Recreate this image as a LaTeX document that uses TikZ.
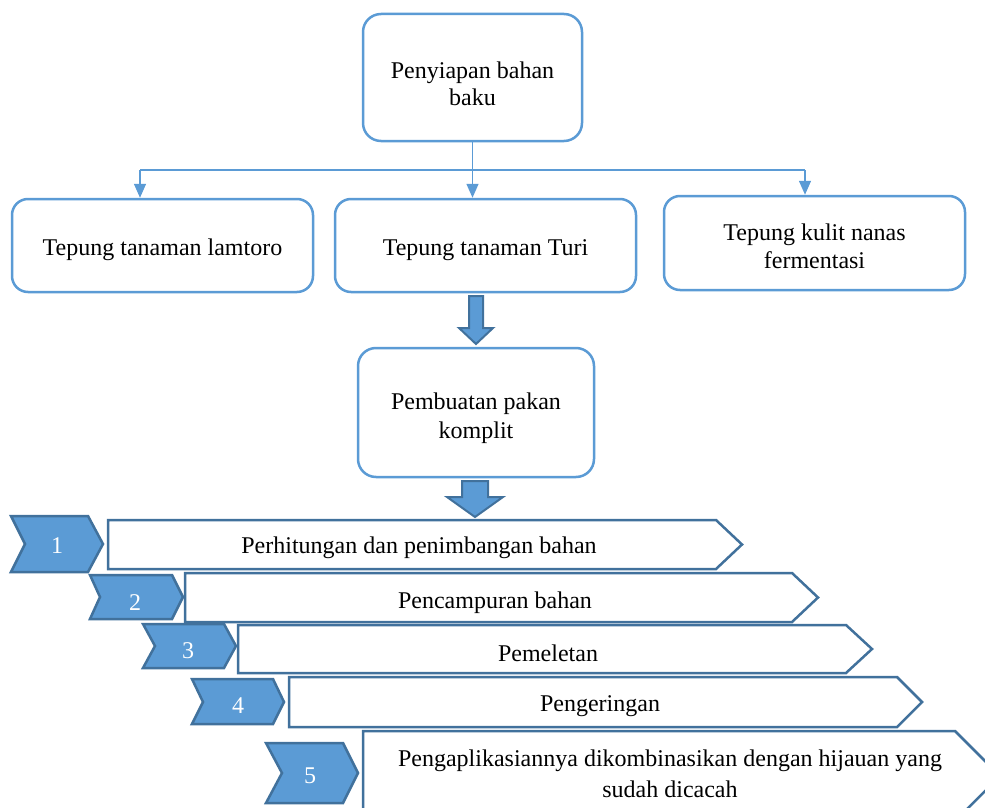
\documentclass[tikz,border=0pt]{standalone}
\usepackage{fontspec}
\setmainfont{Liberation Serif}
\usetikzlibrary{arrows.meta}
\definecolor{lb}{HTML}{5B9BD5}
\definecolor{db}{HTML}{41719C}
\newcommand{\dn}[1]{\rule{0pt}{#1}}
\begin{document}
\begin{tikzpicture}[x=1pt,y=-1pt,
  font=\fontsize{24}{28}\selectfont,
  rbox/.style={draw=lb, line width=2.5pt, rounded corners=18pt, fill=white, align=center, inner sep=0pt},
  conn/.style={draw=lb, line width=1.5pt, -{Triangle[length=14pt,width=12pt]}},
  plainline/.style={draw=lb, line width=1.5pt},
  barshape/.style={draw=db, line width=2.5pt, fill=white, line join=miter},
  chev/.style={draw=db, line width=2.5pt, fill=lb, line join=miter},
  blk/.style={draw=db, line width=2pt, fill=lb, line join=miter},
  num/.style={text=white, inner sep=0pt},
  bartext/.style={inner sep=0pt, align=center}
]
\useasboundingbox (0,0) rectangle (985,808);
\clip (0,0) rectangle (985,808);

% top part
\node[rbox, minimum width=219pt, minimum height=127pt, font=\fontsize{24}{27}\selectfont] (top) at (472.5,77.5) {\dn{28.5pt}Penyiapan bahan\\baku};
\node[rbox, rounded corners=16pt, minimum width=301pt, minimum height=93pt] (b1) at (162.5,245.5) {\dn{24.5pt}Tepung tanaman lamtoro};
\node[rbox, rounded corners=16pt, minimum width=301pt, minimum height=93pt] (b2) at (485.5,245.5) {\dn{24.5pt}Tepung tanaman Turi};
\node[rbox, rounded corners=16pt, minimum width=301pt, minimum height=94pt] (b3) at (814.5,243) {\dn{23.5pt}Tepung kulit nanas\\fermentasi};
\node[rbox, minimum width=236pt, minimum height=129pt, font=\fontsize{24}{29}\selectfont] (b4) at (476,412.5) {\dn{27.5pt}Pembuatan pakan\\komplit};

% connectors
\coordinate (jc) at (top.south |- 0,170);
\coordinate (jl) at (140,170);
\coordinate (jr) at (805,170);
\draw[plainline] (top.south) -- (jc);
\draw[plainline] (jl) -- (jr);
\draw[conn] (jl) -- (jl |- b1.north);
\draw[conn] (jc) -- (jc |- b2.north);
\draw[conn] (jr) -- (jr |- b3.north);

% block arrows
\draw[blk] (469,296) -- (483,296) -- (483,328) -- (493,328) -- (476,344) -- (459,328) -- (469,328) -- cycle;
\draw[blk] (462,481) -- (488,481) -- (488,497) -- (503,497) -- (475,517) -- (447,497) -- (462,497) -- cycle;

% step bars
\draw[barshape] (108,520) -- (716,520) -- (742,544.5) -- (716,569) -- (108,569) -- cycle;
\draw[barshape] (185,573) -- (792,573) -- (818,597.5) -- (792,622) -- (185,622) -- cycle;
\draw[barshape] (238,625) -- (846,625) -- (872,649) -- (846,673) -- (238,673) -- cycle;
\draw[barshape] (289,677) -- (897,677) -- (922,702) -- (897,727) -- (289,727) -- cycle;
\draw[barshape] (363,731) -- (955,731) -- (1000,776) -- (955,821) -- (363,821) -- cycle;

% chevrons
\draw[chev] (11,516) -- (88,516) -- (103,544) -- (88,572) -- (11,572) -- (25,544) -- cycle;
\draw[chev] (90,575) -- (172,575) -- (183,597) -- (172,619) -- (90,619) -- (100,597) -- cycle;
\draw[chev] (143,624) -- (224,624) -- (236,646) -- (224,668) -- (143,668) -- (155,646) -- cycle;
\draw[chev] (192,679) -- (273,679) -- (284,702) -- (273,724) -- (192,724) -- (203,702) -- cycle;
\draw[chev] (266,743) -- (343,743) -- (358,773) -- (343,803) -- (266,803) -- (282,773) -- cycle;

\node[num] (n1) at (57,546) {1};
\node[num] (n2) at (135,603) {2};
\node[num] (n3) at (188,651) {3};
\node[num] (n4) at (238,706) {4};
\node[num] (n5) at (310,776) {5};

\node[bartext] (s1) at (419,548) {Perhitungan dan penimbangan bahan};
\node[bartext] (s2) at (495,603) {Pencampuran bahan};
\node[bartext] (s3) at (548,653) {Pemeletan};
\node[bartext] (s4) at (600,706) {Pengeringan};
\node[bartext, font=\fontsize{24}{31}\selectfont] (s5) at (670,774) {Pengaplikasiannya dikombinasikan dengan hijauan yang\\sudah dicacah};
\end{tikzpicture}
\end{document}
